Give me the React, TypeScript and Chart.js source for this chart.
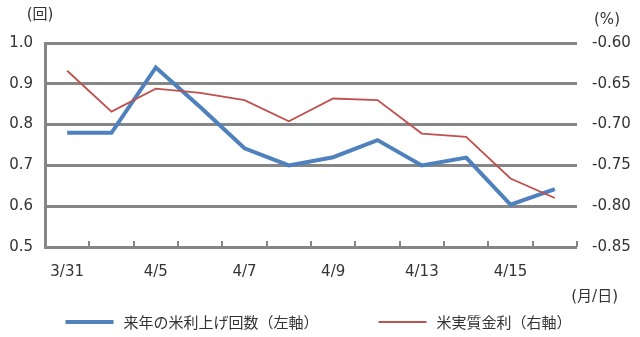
import React, { useEffect, useRef } from "react";
import { Chart, registerables } from "chart.js";

Chart.register(...registerables);

const categories = ["3/31", "4/1", "4/5", "4/6", "4/7", "4/8", "4/9", "4/12", "4/13", "4/14", "4/15", "4/16"];
const shownLabels = ["3/31", "4/5", "4/7", "4/9", "4/13", "4/15"];
const hikeCount = [0.78, 0.78, 0.94, 0.843, 0.742, 0.70, 0.72, 0.762, 0.70, 0.719, 0.604, 0.642];
const realRate = [-0.634, -0.684, -0.656, -0.661, -0.670, -0.696, -0.668, -0.670, -0.711, -0.715, -0.766, -0.790];
const seriesNames = ["来年の米利上げ回数（左軸）", "米実質金利（右軸）"];
const leftUnit = "(回)";
const rightUnit = "(%)";
const xUnit = "(月/日)";

const GRID = "#868686";
const TEXT = "#333333";
const FONT = "'DejaVu Sans', 'Noto Sans CJK JP', sans-serif";

const decorPlugin = {
  id: "decor",
  afterDraw(chart: any) {
    const ctx = chart.ctx;
    const area = chart.chartArea;
    const xs = chart.scales.x;
    const n = categories.length;
    ctx.save();
    // inward tick marks at category boundaries
    ctx.strokeStyle = GRID;
    ctx.lineWidth = 2;
    for (let i = 0; i <= n; i++) {
      const x = Math.round(xs.left + (i * (xs.right - xs.left)) / n);
      ctx.beginPath();
      ctx.moveTo(x, area.bottom);
      ctx.lineTo(x, area.bottom - 6);
      ctx.stroke();
    }
    // unit labels
    ctx.fillStyle = TEXT;
    ctx.font = `15px ${FONT}`;
    ctx.textBaseline = "middle";
    ctx.textAlign = "center";
    ctx.fillText(leftUnit, 40, 15);
    ctx.fillText(rightUnit, 607, 20);
    ctx.textAlign = "right";
    ctx.fillText(xUnit, 618, 297);
    // legend
    const ds = chart.data.datasets;
    const lineLen = 48;
    const gapText = 10;
    const gapItem = 60;
    ctx.font = `15px 'Noto Sans CJK JP', sans-serif`;
    const widths = ds.map((d: any) => lineLen + gapText + ctx.measureText(d.label).width);
    const total = widths.reduce((a: number, b: number) => a + b, 0) + gapItem * (ds.length - 1);
    let x = chart.width / 2 - 1.5 - total / 2;
    const y = 322;
    ctx.textAlign = "left";
    ds.forEach((d: any, i: number) => {
      ctx.strokeStyle = d.borderColor;
      ctx.lineWidth = d.borderWidth;
      ctx.lineCap = "butt";
      ctx.beginPath();
      ctx.moveTo(x, y);
      ctx.lineTo(x + lineLen, y);
      ctx.stroke();
      ctx.fillStyle = TEXT;
      ctx.fillText(d.label, x + lineLen + gapText, y);
      x += widths[i] + gapItem;
    });
    ctx.restore();
  },
};

export default function App() {
  const ref = useRef<HTMLCanvasElement>(null);
  useEffect(() => {
    if (!ref.current) return;
    const chart = new Chart(ref.current, {
      type: "line",
      data: {
        labels: categories,
        datasets: [
          {
            label: seriesNames[0],
            data: hikeCount,
            borderColor: "#4f81bd",
            backgroundColor: "#4f81bd",
            borderWidth: 4,
            pointRadius: 0,
            tension: 0,
            yAxisID: "y",
            order: 1,
          },
          {
            label: seriesNames[1],
            data: realRate,
            borderColor: "#c0504d",
            backgroundColor: "#c0504d",
            borderWidth: 1.8,
            pointRadius: 0,
            tension: 0,
            yAxisID: "y1",
            order: 0,
          },
        ],
      },
      options: {
        animation: false,
        responsive: false,
        maintainAspectRatio: false,
        layout: { padding: { top: 43, left: 0, right: 0, bottom: 0 } },
        plugins: { legend: { display: false }, tooltip: { enabled: false } },
        scales: {
          x: {
            type: "category",
            offset: true,
            grid: { display: false },
            border: { display: false },
            ticks: {
              autoSkip: false,
              maxRotation: 0,
              padding: 8,
              color: TEXT,
              font: { family: FONT, size: 15 },
              callback: (v: any, i: number) => (shownLabels.includes(categories[i]) ? categories[i] : ""),
            },
            afterFit: (s: any) => {
              s.height = 90;
            },
          },
          y: {
            position: "left",
            min: 0.5,
            max: 1.0,
            ticks: {
              stepSize: 0.1,
              padding: 12,
              color: TEXT,
              font: { family: FONT, size: 15 },
              callback: (v: any) => Number(v).toFixed(1),
            },
            grid: { color: GRID, lineWidth: 3, drawTicks: false },
            border: { display: true, color: GRID, width: 3 },
            afterFit: (s: any) => {
              s.width = 45;
            },
          },
          y1: {
            position: "right",
            min: -0.85,
            max: -0.6,
            ticks: {
              stepSize: 0.05,
              padding: 15,
              color: TEXT,
              font: { family: FONT, size: 15 },
              callback: (v: any) => Number(v).toFixed(2),
            },
            grid: { display: false, drawTicks: false },
            border: { display: false },
            afterFit: (s: any) => {
              s.width = 63;
            },
          },
        },
      },
      plugins: [decorPlugin],
    });
    return () => chart.destroy();
  }, []);
  return (
    <div style={{ position: "absolute", left: 0, top: 0, width: 640, height: 337, background: "#fff" }}>
      <canvas ref={ref} width={640} height={337} style={{ width: 640, height: 337 }} />
    </div>
  );
}
